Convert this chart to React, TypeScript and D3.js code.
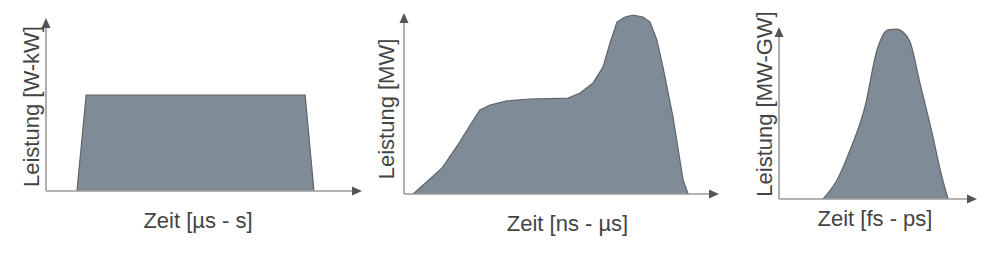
import React from "react";
import * as d3 from "d3";

// Panel 1: rectangular pulse (W-kW)
const p1Time = [9.8, 12.7, 82, 84.8];
const p1Power = [0, 55.5, 55.5, 0];

// Panel 2: MW pulse with plateau and spike
const p2Time = [2.9, 12.1, 17.1, 21.6, 24.1, 27.3, 32.7, 40, 52.1, 55.9, 60, 63.2, 65.4, 67.6, 70.2, 72.7, 75.9, 78.1, 80.3, 82.2, 85.4, 88.6, 90.2];
const p2Power = [0, 14.4, 27.1, 39.8, 46.4, 49.2, 51.4, 52.5, 53, 55.8, 61.3, 70.2, 83.4, 95, 97.8, 98.9, 97.8, 95, 85, 70.2, 42.5, 7.7, 0];

// Panel 3: ultrashort pulse (MW-GW)
const p3Time = [22.2, 29.3, 35.9, 43.4, 49.5, 52, 55, 59.6, 62.6, 66.2, 71.2, 77.3, 82.3, 85.4];
const p3Power = [0, 11, 28.5, 53.5, 86.6, 94.2, 98.3, 98.8, 97.1, 91.3, 67.4, 38.4, 12.8, 0];

const yLabels = ["Leistung [W-kW]", "Leistung [MW]", "Leistung [MW-GW]"];
const xLabels = ["Zeit [µs - s]", "Zeit [ns - µs]", "Zeit [fs - ps]"];

type PanelLayout = {
  x0: number; x1: number; y0: number; y1: number;
  yLabelX: number; yLabelY: number; xLabelX: number; xLabelY: number;
  curve: d3.CurveFactory;
};

const layouts: PanelLayout[] = [
  { x0: 46, x1: 362, y0: 191, y1: 18, yLabelX: 39, yLabelY: 106.5, xLabelX: 198, xLabelY: 227.5, curve: d3.curveLinear },
  { x0: 404, x1: 719, y0: 194, y1: 13, yLabelX: 394, yLabelY: 109, xLabelX: 567.5, xLabelY: 231, curve: d3.curveLinear },
  { x0: 779, x1: 977, y0: 199, y1: 27, yLabelX: 771.5, yLabelY: 104, xLabelX: 875, xLabelY: 226, curve: d3.curveMonotoneX },
];

const series = [
  { t: p1Time, p: p1Power },
  { t: p2Time, p: p2Power },
  { t: p3Time, p: p3Power },
];

const FONT = "'Liberation Sans', Arial, sans-serif";

function Panel({ idx }: { idx: number }) {
  const L = layouts[idx];
  const s = series[idx];
  const x = d3.scaleLinear().domain([0, 100]).range([L.x0, L.x1]);
  const y = d3.scaleLinear().domain([0, 100]).range([L.y0, L.y1]);
  const pts: [number, number][] = s.t.map((t, i) => [t, s.p[i]]);
  const area = d3
    .area<[number, number]>()
    .x((d) => x(d[0]))
    .y0(y(0))
    .y1((d) => y(d[1]))
    .curve(L.curve);
  const line = d3
    .line<[number, number]>()
    .x((d) => x(d[0]))
    .y((d) => y(d[1]))
    .curve(L.curve);
  const ah = 10, aw = 4.5;
  const xEnd = x(100), yTop = y(100);
  return (
    <g>
      <path d={area(pts) || ""} fill="#7f8b97" />
      <path d={line(pts) || ""} fill="none" stroke="#5f6468" strokeWidth={1.2} />
      {/* axes */}
      <line x1={x(0)} y1={y(0)} x2={xEnd - ah + 1} y2={y(0)} stroke="#9a9a9a" strokeWidth={1.6} />
      <line x1={x(0)} y1={y(0)} x2={x(0)} y2={yTop + ah - 1} stroke="#9a9a9a" strokeWidth={1.6} />
      <path d={`M${xEnd},${y(0)} L${xEnd - ah},${y(0) - aw} L${xEnd - ah},${y(0) + aw} Z`} fill="#555" />
      <path d={`M${x(0)},${yTop} L${x(0) - aw},${yTop + ah} L${x(0) + aw},${yTop + ah} Z`} fill="#555" />
      <text x={L.xLabelX} y={L.xLabelY} textAnchor="middle" fontFamily={FONT} fontSize={22} fill="#444">
        {xLabels[idx]}
      </text>
      <text
        transform={`translate(${L.yLabelX},${L.yLabelY}) rotate(-90)`}
        textAnchor="middle"
        fontFamily={FONT}
        fontSize={22}
        fill="#444"
      >
        {yLabels[idx]}
      </text>
    </g>
  );
}

export default function App() {
  return (
    <svg
      width={1003}
      height={255}
      style={{ position: "absolute", left: 0, top: 0, background: "#fff" }}
    >
      <rect width={1003} height={255} fill="#fff" />
      {layouts.map((_, i) => (
        <Panel key={i} idx={i} />
      ))}
    </svg>
  );
}
